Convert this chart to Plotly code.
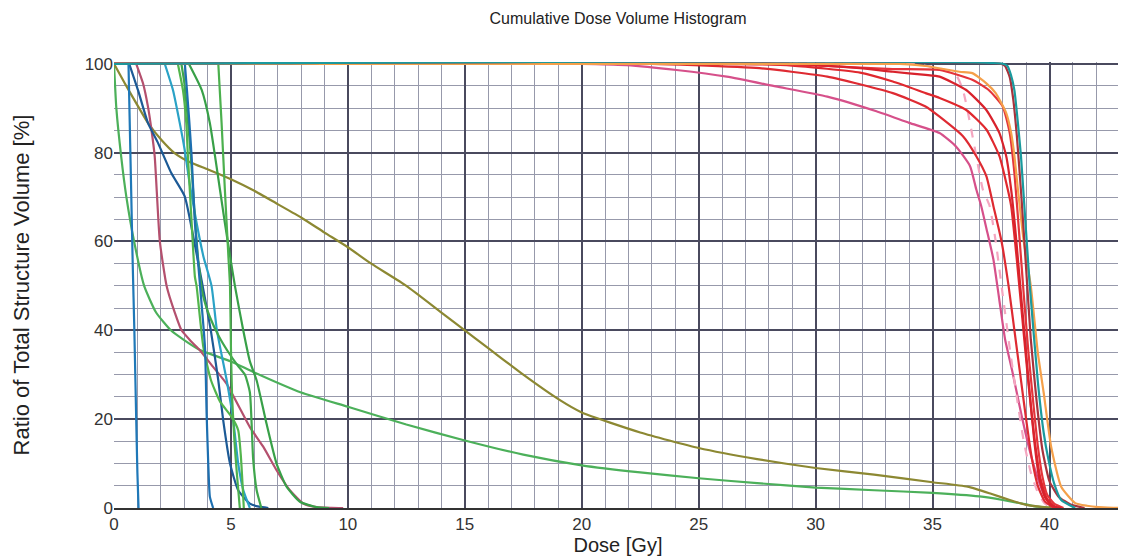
import plotly.graph_objects as go

# ---------------- data (dose in Gy, volume in %) ----------------
# left-side organ curves
b1_dose = [0.62, 0.68, 0.74, 0.8, 0.87, 0.95, 1.0, 1.05]
b1_vol = [100, 85, 70, 55, 40, 20, 8, 0]

g1_dose = [0, 0.1, 0.31, 0.53, 0.86, 1.29, 1.8, 2.43, 3.0, 3.7, 5, 6, 8, 10, 12.5, 15, 17.5, 20,
           22.5, 25, 27.5, 30, 32.5, 35, 37, 38, 39, 39.5, 40, 40.5]
g1_vol = [100, 90, 79, 70, 60, 50, 44, 40, 37.8, 35.5, 33, 30.5, 26, 22.8, 18.8, 15.2, 12, 9.6,
          8, 6.7, 5.6, 4.6, 4.0, 3.4, 2.6, 1.8, 0.8, 0.3, 0.1, 0]

olive_dose = [0, 0.46, 1.03, 1.45, 2.02, 2.59, 3.3, 4.02, 5, 6, 7, 8, 9, 10, 11, 12.5, 14, 15, 16,
              17.5, 19, 20, 22.5, 25, 27.5, 30, 32.5, 35, 36.5, 37.5, 38.3, 39, 40, 40.5]
olive_vol = [100, 95.6, 90.4, 86.7, 82.9, 79.9, 77.7, 76.2, 74, 71.4, 68.4, 65.4, 62, 58.7, 55, 50,
             44, 40, 36, 30, 24.5, 21.5, 17, 13.5, 11, 9, 7.5, 5.8, 4.8, 3.2, 1.8, 0.7, 0.1, 0]

mauve_dose = [0.95, 1.24, 1.45, 1.6, 1.74, 1.96, 2.25, 2.6, 2.89, 3.3, 3.67, 4.2, 4.81, 5.81, 6.38,
              6.95, 7.52, 8.09, 8.66, 9.3, 9.8]
mauve_vol = [100, 95.6, 90.4, 85.2, 79.2, 60, 50, 44, 40, 37.5, 35.5, 32, 28, 18.2, 13.8, 8.5, 4,
             1, 0.2, 0.05, 0]

dblue_dose = [0.65, 1.03, 1.45, 1.88, 2.45, 3.02, 3.43, 3.79, 4.14, 4.46, 4.67, 4.96, 5.31, 5.81,
              6.2, 6.6]
dblue_vol = [100, 94, 86.7, 82.2, 75.4, 70.2, 60, 50, 40, 28.7, 19.7, 10, 4, 1, 0.3, 0]

cyan_dose = [2.17, 2.52, 2.81, 3.02, 3.23, 3.53, 3.82, 4.17, 4.4, 4.82, 5.1, 5.31, 5.53, 5.81]
cyan_vol = [100, 94.1, 86.7, 80.7, 73.2, 64.2, 56.7, 50, 40, 28.7, 19.7, 10, 4, 0]

ga_dose = [2.73, 2.95, 3.09, 3.16, 3.32, 3.46, 3.53, 3.82, 4.15, 4.53, 5.03, 5.31, 5.42, 5.5, 5.55]
ga_vol = [100, 94, 86.7, 79.2, 64.2, 52, 50, 36.2, 28.7, 24, 20.5, 17.5, 12, 5, 0]

gb_dose = [2.88, 3.0, 3.15, 3.3, 3.45, 3.6, 3.8, 4.1, 4.5, 4.9, 5.3, 5.6, 5.81, 5.95, 6.1, 6.3]
gb_vol = [100, 96, 88, 78, 66, 56, 48, 43, 38.5, 35, 32, 30, 26, 11, 4, 0]

b2_dose = [3.03, 3.12, 3.22, 3.32, 3.46, 3.6, 3.68, 3.89, 3.96, 4.03, 4.1, 4.24]
b2_vol = [100, 94, 87, 79.1, 64.2, 55, 50, 36.2, 21.3, 10, 2.5, 0]

gc_dose = [3.2, 3.75, 4.1, 4.32, 4.53, 4.74, 4.96, 5.17, 5.53, 5.81, 6.1, 6.52, 6.95, 7.38, 7.95,
           8.66, 9.2]
gc_vol = [100, 94.1, 86.6, 79.2, 71.7, 64.2, 56.8, 50, 39.9, 33, 28.7, 19, 10, 4.8, 1.4, 0.2, 0]

gd_dose = [4.46, 4.6, 4.74, 4.89, 4.96, 5.0, 5.05, 5.15, 5.25, 5.38]
gd_vol = [100, 86.7, 71.7, 56.8, 50, 36, 25, 15, 8, 0]

# right-side target curves
magenta_dose = [0, 20, 21.9, 24.05, 26.2, 28.3, 30.5, 32.6, 34.0, 35.3, 36.0, 36.6, 36.87, 37.08,
                37.3, 37.6, 37.85, 38.1, 38.4, 38.8, 39.15, 39.45, 39.75, 40.15]
magenta_vol = [100, 100, 99.7, 98.6, 97.1, 94.9, 92.6, 89.3, 86.7, 84.4, 81.4, 77, 71.7, 68, 63, 56,
               47, 38, 31, 21, 13, 7.5, 3.2, 0]

pink_dose = [0, 34, 35.3, 36.0, 36.3, 36.6, 36.87, 37.15, 37.44, 37.7, 38.0, 38.3, 38.6, 38.9, 39.2,
             39.5, 39.8, 40.1]
pink_vol = [100, 100, 99, 97.5, 94.1, 86.7, 79.2, 71.7, 68, 60, 48, 36, 25, 15, 8, 3.5, 1, 0]

ra_dose = [0, 28, 30.5, 33.3, 35.3, 36.7, 37.4, 38.0, 38.3, 38.5, 38.7, 38.9, 39.1, 39.3, 39.5,
           39.7, 39.9, 40.2, 40.6]
ra_vol = [100, 100, 99.5, 98.8, 98.6, 96.4, 94.1, 90.4, 84.4, 75.4, 62, 48, 35, 24, 14, 7, 3, 1, 0]

rb_dose = [0, 29, 31.9, 33.3, 34.7, 35.3, 36.44, 37.3, 37.86, 38.15, 38.36, 38.55, 38.75, 38.95,
           39.15, 39.35, 39.55, 39.8, 40.1, 40.5]
rb_vol = [100, 100, 99, 98.2, 97.5, 97.1, 94.1, 89.6, 84.4, 79.2, 71.7, 62, 50, 38, 26, 15, 7, 2.5,
          0.5, 0]

rc_dose = [0, 26, 29, 31.9, 33.3, 34.7, 35.3, 36.44, 37.3, 37.86, 38.15, 38.36, 38.6, 38.85, 39.1,
           39.35, 39.6, 39.9, 40.3]
rc_vol = [100, 100, 99.6, 98, 96, 93.4, 92.3, 89.6, 85.2, 79.2, 73.2, 68, 56, 42, 28, 16, 7, 2, 0]

rd_dose = [0, 23, 24.8, 27.6, 30.5, 33.3, 34.7, 35.3, 36.3, 36.87, 37.3, 37.6, 37.95, 38.25, 38.5,
           38.75, 39.0, 39.25, 39.5, 39.8, 40.2]
rd_vol = [100, 100, 99.7, 99, 97.1, 93.4, 90.4, 88.1, 83.7, 79.2, 74.7, 68, 60, 50, 40, 30, 20, 11,
          5, 1.5, 0]

re_dose = [0, 37.9, 38.1, 38.3, 38.45, 38.6, 38.8, 39.0, 39.2, 39.45, 39.7, 40.0, 40.4, 40.9, 41.5]
re_vol = [100, 100, 99.5, 97, 92, 84, 70, 54, 38, 24, 13, 6, 2.5, 0.8, 0]

orange_dose = [0, 33.6, 34.7, 36.15, 36.7, 37.3, 37.7, 38.15, 38.36, 38.5, 38.65, 38.9, 39.2, 39.5,
               39.75, 40.07, 40.5, 41.1, 41.6, 42.1, 42.8, 43.1]
orange_vol = [100, 100, 99.5, 98.2, 97.9, 95.6, 93.4, 88.9, 84.4, 79.2, 71.7, 60, 50, 35, 26, 13.8,
              4.8, 1.1, 0.5, 0.2, 0.05, 0]

teal_dose = [0, 38.0, 38.2, 38.35, 38.5, 38.65, 38.78, 38.9, 39.15, 39.5, 39.75, 39.95, 40.2, 40.5,
             41.1]
teal_vol = [100, 100, 99.5, 97.5, 94, 86.6, 79.2, 70, 50.5, 28.5, 17, 11, 5.5, 1.8, 0]

x_ticks = [0, 5, 10, 15, 20, 25, 30, 35, 40]
y_ticks = [0, 20, 40, 60, 80, 100]

# ---------------- figure ----------------
series = [
    (g1_dose, g1_vol, "#4cb05a", "solid"),
    (olive_dose, olive_vol, "#8c8832", "solid"),
    (mauve_dose, mauve_vol, "#b4506e", "solid"),
    (dblue_dose, dblue_vol, "#1c5a96", "solid"),
    (cyan_dose, cyan_vol, "#2aa2c6", "solid"),
    (ga_dose, ga_vol, "#52b54c", "solid"),
    (gb_dose, gb_vol, "#3fa64c", "solid"),
    (b2_dose, b2_vol, "#1d6fb0", "solid"),
    (gc_dose, gc_vol, "#38a048", "solid"),
    (gd_dose, gd_vol, "#4cb04e", "solid"),
    (b1_dose, b1_vol, "#1f78b8", "solid"),
    (magenta_dose, magenta_vol, "#d6508a", "solid"),
    (pink_dose, pink_vol, "#f4a6c0", "dash"),
    (rd_dose, rd_vol, "#de2a32", "solid"),
    (rc_dose, rc_vol, "#e0282e", "solid"),
    (ra_dose, ra_vol, "#e4343a", "solid"),
    (rb_dose, rb_vol, "#d8222c", "solid"),
    (orange_dose, orange_vol, "#f5a04a", "solid"),
    (re_dose, re_vol, "#a8323c", "solid"),
    (teal_dose, teal_vol, "#1a9a9e", "solid"),
]

fig = go.Figure()
for xs, ys, col, dash in series:
    fig.add_trace(go.Scatter(
        x=xs, y=ys, mode="lines",
        line=dict(color=col, width=2.2, dash=dash, shape="spline", smoothing=0.5),
        hoverinfo="skip", showlegend=False,
    ))

# page has an 8 px body margin, so the figure is sized/margined to land the
# plot area at x 114-1122, y 62-508 of the 1126x556 window
fig.update_layout(
    width=1118, height=548,
    margin=dict(l=106, r=4, t=54, b=48),
    paper_bgcolor="white", plot_bgcolor="white",
    font=dict(family="Liberation Sans, Arial, sans-serif", color="#222222"),
    title=dict(text="Cumulative Dose Volume Histogram", x=0.5, xref="paper",
               y=1 - 10 / 548, yref="container", xanchor="center", yanchor="middle",
               font=dict(size=16, color="#222222")),
    showlegend=False,
)
fig.update_xaxes(
    range=[0, 43.1], tickmode="array", tickvals=x_ticks,
    ticktext=[str(v) for v in x_ticks], tickfont=dict(size=17, color="#333333"),
    showgrid=True, gridcolor="#4a4a5e", gridwidth=1.6,
    minor=dict(dtick=1, showgrid=True, gridcolor="#9799ab", gridwidth=1),
    showline=True, linecolor="#333333", linewidth=1.5,
    zeroline=False, ticks="", ticklen=0,
    title=dict(text="Dose [Gy]", font=dict(size=20, color="#222222"), standoff=4),
)
fig.update_yaxes(
    range=[0, 100.4], tickmode="array", tickvals=y_ticks,
    ticktext=[str(v) for v in y_ticks], tickfont=dict(size=17, color="#333333"),
    showgrid=True, gridcolor="#4a4a5e", gridwidth=1.6,
    minor=dict(tickvals=[5, 10, 15, 25, 30, 35, 45, 50, 55, 65, 70, 75, 85, 90, 95],
               showgrid=True, gridcolor="#9799ab", gridwidth=1),
    showline=False, zeroline=False, ticks="", ticklen=0,
    title=dict(text="Ratio of Total Structure Volume [%]", font=dict(size=22, color="#222222"),
               standoff=48),
)

fig.write_html("out.html")
